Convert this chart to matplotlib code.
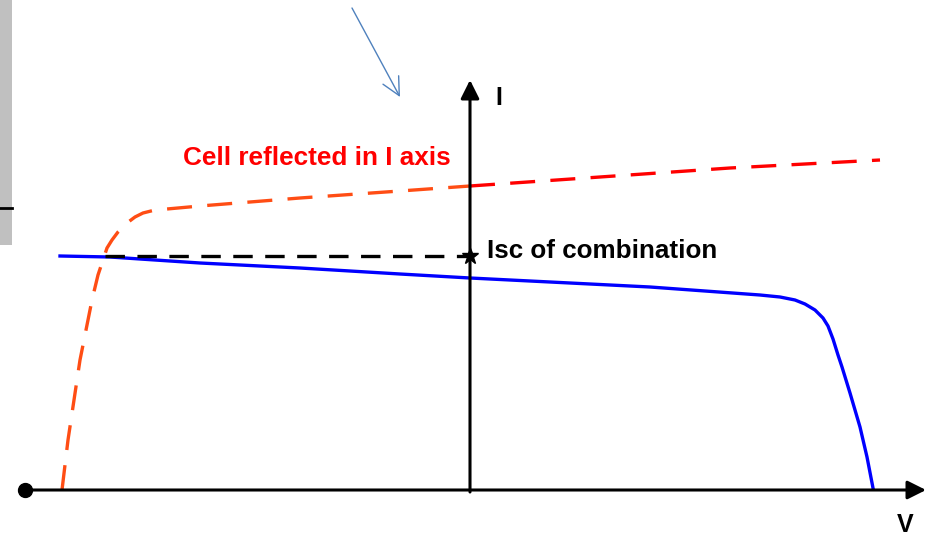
import numpy as np
import matplotlib.pyplot as plt
from matplotlib.patches import Rectangle

# I-V curve of the cell (blue), volts / amps in arbitrary units
blue_v = [-4.10, -3.60, -2.70, -1.70, -0.70, 0.00, 0.80, 1.80, 2.90, 3.10,
          3.25, 3.35, 3.45, 3.53, 3.58, 3.63, 3.68, 3.72, 3.80, 3.90,
          3.97, 4.03]
blue_i = [2.34, 2.33, 2.27, 2.22, 2.16, 2.12, 2.08, 2.03, 1.95, 1.93,
          1.90, 1.86, 1.80, 1.72, 1.64, 1.51, 1.35, 1.23, 0.97, 0.63,
          0.33, 0.02]

# second cell reflected in the I axis (red dashed)
red_v = [-4.08, -4.02, -3.90, -3.78, -3.72, -3.67, -3.63, -3.58, -3.52, -3.43,
         -3.35, -3.27, -3.15, -3.03, -2.70, -1.70, -0.70, 0.00, 1.30, 2.60,
         4.10]
red_i = [0.00, 0.50, 1.30, 1.90, 2.15, 2.30, 2.42, 2.50, 2.58, 2.67,
         2.73, 2.77, 2.80, 2.81, 2.84, 2.92, 2.99, 3.04, 3.13, 3.22,
         3.30]

isc_comb = 2.34
isc_v_start = -3.65

plt.rcParams['font.family'] = ['Liberation Sans', 'DejaVu Sans']
plt.rcParams['lines.scale_dashes'] = False

fig = plt.figure(figsize=(9.3, 5.36), dpi=100)
ax = fig.add_axes([0, 0, 1, 1])
ax.set_xlim(-4.70, 4.60)
ax.set_ylim(-0.46, 4.90)
ax.axis('off')

# grey strip on the left edge
ax.add_patch(Rectangle((0, 1 - 245 / 536), 12 / 930, 245 / 536,
                       transform=ax.transAxes, color='#c0c0c0', lw=0))
ax.plot([0, 12 / 930], [1 - 208 / 536] * 2, transform=ax.transAxes,
        color='black', lw=2)

# axes with arrow heads
ax.annotate('', xy=(4.56, 0), xytext=(-4.45, 0),
            arrowprops=dict(arrowstyle='-|>', lw=2.2, color='black',
                            mutation_scale=28, shrinkA=0, shrinkB=0))
ax.plot(-4.45, 0, 'o', color='black', ms=10)
ax.annotate('', xy=(0, 4.10), xytext=(0, -0.02),
            arrowprops=dict(arrowstyle='-|>', lw=2.2, color='black',
                            mutation_scale=28, shrinkA=0, shrinkB=0))

# reflected cell, orange on the left, red on the right
rv = np.array(red_v)
ri = np.array(red_i)
left = rv <= 0
right = rv >= 0
ax.plot(rv[left], ri[left], color='#ff4d14', lw=2.4, dashes=(18, 11),
        dash_capstyle='butt')
ax.plot(rv[right], ri[right], color='#ff0000', lw=2.4, dashes=(18, 11),
        dash_capstyle='butt')

# cell curve
ax.plot(blue_v, blue_i, color='#0000ff', lw=2.4)

# short circuit current of the combination
ax.plot([isc_v_start, 0], [isc_comb, isc_comb], color='black', lw=2.4,
        dashes=(14, 9))
ax.plot(0, isc_comb, marker='*', color='black', ms=12)

ax.text(-2.87, 3.32, 'Cell reflected in I axis', color='#ff0000',
        fontsize=18.8, fontweight='bold', va='center', ha='left')
ax.text(0.17, 2.39, 'Isc of combination', color='black',
        fontsize=18.7, fontweight='bold', va='center', ha='left')
ax.text(0.25, 3.92, 'I', color='black', fontsize=18, fontweight='bold',
        va='center', ha='left')
ax.text(4.35, -0.35, 'V', color='black', fontsize=18, fontweight='bold',
        va='center', ha='center')

# pointer arrow at the top
ax.annotate('', xy=(-0.70, 3.93), xytext=(-1.18, 4.82),
            arrowprops=dict(arrowstyle='->', lw=1.0, color='#4f81bd',
                            mutation_scale=32, shrinkA=0, shrinkB=0))

fig.savefig('out.png', dpi=100)
